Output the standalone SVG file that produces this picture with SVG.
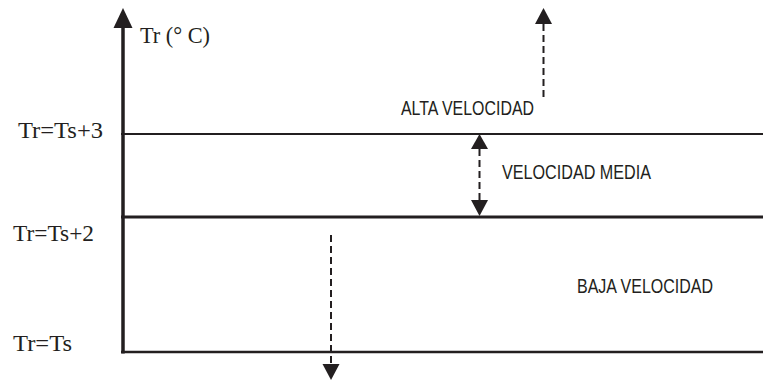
<svg xmlns="http://www.w3.org/2000/svg" width="763" height="382" viewBox="0 0 763 382">
<style>
.serif{font-family:"Liberation Serif","Times New Roman",serif;font-size:24px;fill:#231f20}
.sans{font-family:"Liberation Sans",Arial,sans-serif;font-size:21px;fill:#231f20}
.dash{stroke:#231f20;stroke-width:2;stroke-dasharray:7,4;fill:none}
.head{fill:#231f20}
</style>
<rect width="763" height="382" fill="#fff"/>
<g id="axes">
<line x1="123" y1="24" x2="123" y2="353.5" stroke="#231f20" stroke-width="3.5"/>
<polygon class="head" points="123,8 113.5,28 132.5,28"/>
</g>
<g id="levels">
<line x1="121" y1="134" x2="763" y2="134" stroke="#231f20" stroke-width="2"/>
<line x1="121" y1="217" x2="763" y2="217" stroke="#231f20" stroke-width="3"/>
<line x1="121" y1="352" x2="763" y2="352" stroke="#231f20" stroke-width="2.5"/>
</g>
<g id="labels">
<text class="serif" x="140" y="43" textLength="70" lengthAdjust="spacingAndGlyphs">Tr (° C)</text>
<text class="serif" x="18" y="138" textLength="85" lengthAdjust="spacingAndGlyphs">Tr=Ts+3</text>
<text class="serif" x="13" y="241" textLength="81" lengthAdjust="spacingAndGlyphs">Tr=Ts+2</text>
<text class="serif" x="13" y="351" textLength="59" lengthAdjust="spacingAndGlyphs">Tr=Ts</text>
</g>
<g id="node-alta">
<text class="sans" x="401" y="115" textLength="133" lengthAdjust="spacingAndGlyphs">ALTA VELOCIDAD</text>
</g>
<g id="node-media">
<text class="sans" x="502" y="179" textLength="149" lengthAdjust="spacingAndGlyphs">VELOCIDAD MEDIA</text>
</g>
<g id="node-baja">
<text class="sans" x="577" y="293" textLength="136" lengthAdjust="spacingAndGlyphs">BAJA VELOCIDAD</text>
</g>
<g id="connectors">
<line class="dash" x1="543.5" y1="97" x2="543.5" y2="24"/>
<polygon class="head" points="543.5,8 535,24 552,24"/>
<line class="dash" x1="479.5" y1="149" x2="479.5" y2="200"/>
<polygon class="head" points="479.5,134 471,149 488,149"/>
<polygon class="head" points="479.5,216 471,200 488,200"/>
<line class="dash" x1="331" y1="235" x2="331" y2="364"/>
<polygon class="head" points="331,380 322.5,364 339.5,364"/>
</g>
</svg>
